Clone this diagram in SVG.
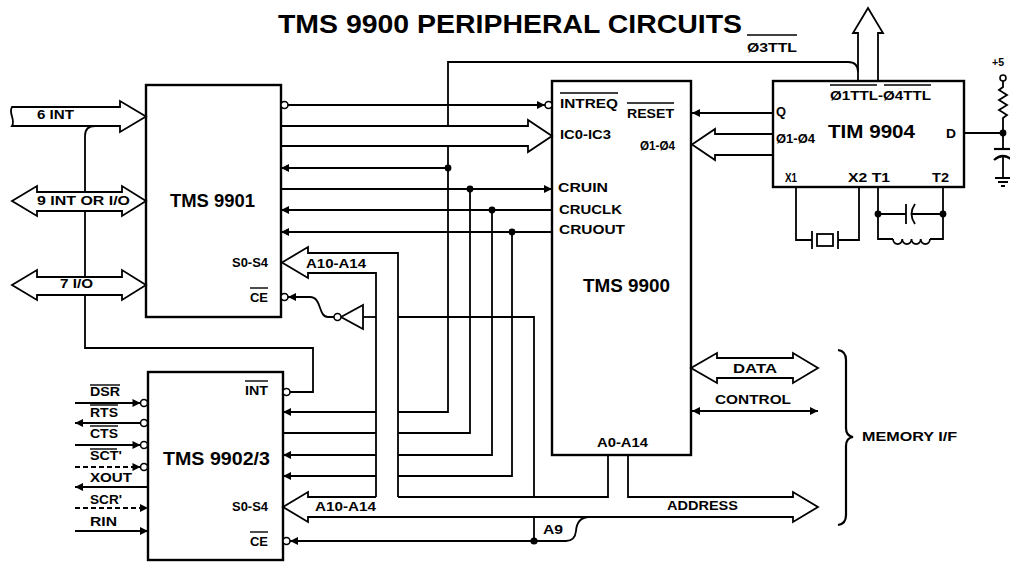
<svg xmlns="http://www.w3.org/2000/svg" width="1010" height="562" viewBox="0 0 1010 562">
<style>
.ln{fill:none;stroke:#000;stroke-width:1.8}
.bx{fill:none;stroke:#000;stroke-width:2.4}
.bus{fill:#fff;stroke:#000;stroke-width:1.8;stroke-linejoin:miter}
.t{font-family:"Liberation Sans",Arial,sans-serif;font-weight:bold;fill:#000;font-size:13px}
.b{font-size:18px}
.d{stroke-dasharray:5,3}
.ov{stroke:#000;stroke-width:1.4}
.bub{fill:#fff;stroke:#000;stroke-width:1.6}
.dot{fill:#000}
</style>
<defs>
<marker id="a" viewBox="0 0 10 10" refX="10" refY="5" markerWidth="9" markerHeight="8" markerUnits="userSpaceOnUse" orient="auto-start-reverse"><path d="M0,0 L10,5 L0,10 z" fill="#000"/></marker>
</defs>
<rect width="1010" height="562" fill="#fff"/>
<text class="t" x="278" y="33" style="font-size:25px" textLength="464" lengthAdjust="spacingAndGlyphs">TMS 9900 PERIPHERAL CIRCUITS</text>

<g id="connectors">
<path class="bus" d="M12,107 L120,107 L120,101 L146,116.5 L120,132 L120,126 L12,126 C16,120 8,113 12,107 Z"/>
<path class="bus" d="M12,201 L37,186 L37,192 L122,192 L122,186 L146,201 L122,216 L122,211 L37,211 L37,216 Z"/>
<path class="bus" d="M12,285 L37,270 L37,277 L122,277 L122,270 L146,285 L122,300 L122,295 L37,295 L37,300 Z"/>
<path class="ln" d="M85,192 L85,136 Q85,126 95,126"/>
<path class="ln" d="M85,211 L85,277"/>
<path class="ln" d="M85,295 L85,348 L313,348 L313,392 L290,392"/>
<path class="ln" d="M288,105 L545,105" marker-end="url(#a)"/>
<path class="ln" d="M281,126 L528,126 L528,120 L552,136 L528,152 L528,146 L281,146"/>
<path class="ln" d="M448,126 L448,62 L848,62 Q858,62 858,72"/>
<path class="ln" d="M448,168 L281,168" marker-end="url(#a)"/>
<path class="ln" d="M281,189 L552,189" marker-end="url(#a)"/>
<path class="ln" d="M552,210 L281,210" marker-end="url(#a)"/>
<path class="ln" d="M552,232 L281,232" marker-end="url(#a)"/>
<circle class="dot" cx="448" cy="168" r="3.4"/>
<circle class="dot" cx="470" cy="189" r="3.4"/>
<circle class="dot" cx="492" cy="210" r="3.4"/>
<circle class="dot" cx="512" cy="232" r="3.4"/>
<path class="ln" d="M448,146 L448,412 L398,412"/>
<path class="ln" d="M376,412 L283,412" marker-end="url(#a)"/>
<path class="ln" d="M470,189 L470,433 L398,433"/>
<path class="ln" d="M376,433 L283,433"/>
<path class="ln" d="M492,210 L492,455 L398,455"/>
<path class="ln" d="M376,455 L283,455" marker-end="url(#a)"/>
<path class="ln" d="M512,232 L512,476 L398,476"/>
<path class="ln" d="M376,476 L283,476" marker-end="url(#a)"/>
<path class="ln" d="M398,497 L398,253 L308,253 L308,247 L282,262.5 L308,278 L308,273 L376,273 L376,497"/>
<path class="ln" d="M376,497 L308,497 L308,492 L283,507 L308,522 L308,517 L793,517 L793,522 L818,507 L793,492 L793,497 L628,497 L628,455"/>
<path class="ln" d="M608,455 L608,497 L398,497"/>
<path class="ln" d="M534,497 L534,317 L398,317"/>
<path class="ln" d="M376,317 L363,317"/>
<path class="ln" d="M363,305 L363,329 L341,317 Z"/>
<circle class="bub" cx="337.5" cy="317" r="3.5"/>
<path class="ln" d="M334,317 L328,317 C318,317 322,297 310,297 L288,297" marker-end="url(#a)"/>
<path class="ln" d="M534,517 L534,541"/>
<path class="ln" d="M534,541 L290,541" marker-end="url(#a)"/>
<circle class="dot" cx="534" cy="541" r="3.6"/>
<path class="ln" d="M534,541 L566,541 Q575,541 576,531 Q577,518 588,517"/>
<path class="ln" d="M75,403 L140.5,403" marker-end="url(#a)"/>
<path class="ln" d="M140.5,423 L75,423" marker-end="url(#a)"/>
<path class="ln" d="M75,445 L140.5,445" marker-end="url(#a)"/>
<path class="ln d" d="M75,467 L140.5,467" marker-end="url(#a)"/>
<path class="ln" d="M148,487 L75,487" marker-end="url(#a)"/>
<path class="ln d" d="M75,508 L148,508" marker-end="url(#a)"/>
<path class="ln" d="M75,531 L148,531" marker-end="url(#a)"/>
<path class="ln" d="M773,113 L692,113" marker-end="url(#a)"/>
<path class="ln" d="M773,134 L715,134 L715,129 L692,144.5 L715,160 L715,155 L773,155"/>
<path class="ln" d="M858,81 L858,33 L853,33 L868,8 L883,33 L878,33 L878,81"/>
<path class="ln" d="M964,133 L1003,133"/>
<path class="ln" d="M1003,81 L1003,87 L999,90 L1007,95 L999,100 L1007,105 L999,110 L1007,115 L1003,118 L1003,148"/>
<circle class="bub" cx="1003" cy="78" r="3"/>
<circle class="dot" cx="1003" cy="133" r="3.4"/>
<path class="ln" d="M994,149 L1012,149" style="stroke-width:2.2"/>
<path class="ln" d="M994,160 Q1003,152 1012,160" style="stroke-width:2.2"/>
<path class="ln" d="M1003,156 L1003,178"/>
<path class="ln" d="M995,178 L1011,178 M998,182 L1008,182 M1001,186 L1005,186"/>
<path class="ln" d="M796,187 L796,240 L812,240 M812,231 L812,249 M838,231 L838,249 M838,240 L859,240 L859,187"/>
<rect class="ln" x="817" y="234" width="16" height="12"/>
<path class="ln" d="M878,187 L878,239 L893,239 M930,239 L943,239 L943,187"/>
<path class="ln" d="M893,239 a4.6,5 0 0 0 9.25,0 a4.6,5 0 0 0 9.25,0 a4.6,5 0 0 0 9.25,0 a4.6,5 0 0 0 9.25,0"/>
<path class="ln" d="M878,214 L906,214 M906,204 L906,224 M915,204 Q908,214 915,224 M912,214 L943,214"/>
<circle class="dot" cx="878" cy="214" r="3.4"/>
<circle class="dot" cx="943" cy="214" r="3.4"/>
<path class="ln" d="M691,368 L717,353 L717,358 L793,358 L793,353 L818,368 L793,383 L793,378 L717,378 L717,383 Z"/>
<path class="ln" d="M692,411 L818,411" marker-start="url(#a)" marker-end="url(#a)"/>
<path class="ln" d="M838,350 Q846,351 846,360 L846,428 Q846,436 853,437 Q846,438 846,446 L846,515 Q846,524 838,525" style="stroke-width:2.2"/>
</g>

<g id="tms9901">
<rect class="bx" x="146" y="85" width="135" height="232"/>
<circle class="bub" cx="284.5" cy="105" r="3.5"/>
<circle class="bub" cx="284.5" cy="297" r="3.5"/>
<text class="t b" x="170" y="207" textLength="85" lengthAdjust="spacingAndGlyphs">TMS 9901</text>
<text class="t" x="232" y="267" textLength="36" lengthAdjust="spacingAndGlyphs">S0-S4</text>
<text class="t" x="250" y="302" textLength="18" lengthAdjust="spacingAndGlyphs">CE</text>
<line class="ov" x1="250" y1="288" x2="268" y2="288"/>
</g>

<g id="tms9902">
<rect class="bx" x="148" y="372" width="135" height="188"/>
<circle class="bub" cx="286.5" cy="392" r="3.5"/>
<circle class="bub" cx="286.5" cy="541" r="3.5"/>
<circle class="bub" cx="144" cy="403" r="3.5"/>
<circle class="bub" cx="144" cy="423" r="3.5"/>
<circle class="bub" cx="144" cy="445" r="3.5"/>
<circle class="bub" cx="144" cy="467" r="3.5"/>
<text class="t b" x="163" y="465" textLength="107" lengthAdjust="spacingAndGlyphs">TMS 9902/3</text>
<text class="t" x="245" y="395" textLength="23" lengthAdjust="spacingAndGlyphs">INT</text>
<line class="ov" x1="245" y1="381" x2="268" y2="381"/>
<text class="t" x="232" y="511" textLength="36" lengthAdjust="spacingAndGlyphs">S0-S4</text>
<text class="t" x="250" y="546" textLength="18" lengthAdjust="spacingAndGlyphs">CE</text>
<line class="ov" x1="250" y1="532" x2="268" y2="532"/>
<text class="t" x="90" y="396" textLength="30" lengthAdjust="spacingAndGlyphs">DSR</text>
<line class="ov" x1="90" y1="385" x2="120" y2="385"/>
<text class="t" x="90" y="417" textLength="28" lengthAdjust="spacingAndGlyphs">RTS</text>
<line class="ov" x1="90" y1="405" x2="118" y2="405"/>
<text class="t" x="90" y="438" textLength="28" lengthAdjust="spacingAndGlyphs">CTS</text>
<line class="ov" x1="90" y1="426" x2="118" y2="426"/>
<text class="t" x="90" y="460" textLength="32" lengthAdjust="spacingAndGlyphs">SCT'</text>
<line class="ov" x1="90" y1="449" x2="117" y2="449"/>
<text class="t" x="90" y="482" textLength="42" lengthAdjust="spacingAndGlyphs">XOUT</text>
<text class="t" x="90" y="504" textLength="32" lengthAdjust="spacingAndGlyphs">SCR'</text>
<text class="t" x="90" y="526" textLength="27" lengthAdjust="spacingAndGlyphs">RIN</text>
</g>

<g id="tms9900">
<rect class="bx" x="552" y="81" width="139" height="374"/>
<circle class="bub" cx="548.5" cy="105" r="3.5"/>
<text class="t" x="560" y="108" textLength="58" lengthAdjust="spacingAndGlyphs">INTREQ</text>
<line class="ov" x1="560" y1="93" x2="618" y2="93"/>
<text class="t" x="627" y="118" textLength="47" lengthAdjust="spacingAndGlyphs">RESET</text>
<line class="ov" x1="627" y1="103" x2="674" y2="103"/>
<text class="t" x="560" y="139" textLength="51" lengthAdjust="spacingAndGlyphs">IC0-IC3</text>
<text class="t" x="640" y="150" textLength="35" lengthAdjust="spacingAndGlyphs">Ø1-Ø4</text>
<text class="t" x="558" y="192" textLength="50" lengthAdjust="spacingAndGlyphs">CRUIN</text>
<text class="t" x="559" y="214" textLength="63" lengthAdjust="spacingAndGlyphs">CRUCLK</text>
<text class="t" x="559" y="234" textLength="66" lengthAdjust="spacingAndGlyphs">CRUOUT</text>
<text class="t b" x="583" y="292" textLength="87" lengthAdjust="spacingAndGlyphs">TMS 9900</text>
<text class="t" x="597" y="447" textLength="51" lengthAdjust="spacingAndGlyphs">A0-A14</text>
</g>

<g id="tim9904">
<rect class="bx" x="773" y="81" width="191" height="106"/>
<text class="t" x="830" y="100" textLength="101" lengthAdjust="spacingAndGlyphs">Ø1TTL-Ø4TTL</text>
<line class="ov" x1="830" y1="85" x2="877" y2="85"/>
<line class="ov" x1="884" y1="85" x2="931" y2="85"/>
<text class="t" x="776" y="116" textLength="10" lengthAdjust="spacingAndGlyphs">Q</text>
<text class="t" x="776" y="143" textLength="39" lengthAdjust="spacingAndGlyphs">Ø1-Ø4</text>
<text class="t b" x="828" y="138" textLength="87" lengthAdjust="spacingAndGlyphs">TIM 9904</text>
<text class="t" x="946" y="138" textLength="10" lengthAdjust="spacingAndGlyphs">D</text>
<text class="t" x="785" y="182" textLength="12" lengthAdjust="spacingAndGlyphs">X1</text>
<text class="t" x="848" y="182" textLength="42" lengthAdjust="spacingAndGlyphs">X2 T1</text>
<text class="t" x="932" y="182" textLength="17" lengthAdjust="spacingAndGlyphs">T2</text>
</g>

<g id="labels">
<text class="t" x="37" y="119" textLength="37" lengthAdjust="spacingAndGlyphs">6 INT</text>
<text class="t" x="37" y="205" textLength="93" lengthAdjust="spacingAndGlyphs">9 INT OR I/O</text>
<text class="t" x="60" y="288" textLength="33" lengthAdjust="spacingAndGlyphs">7 I/O</text>
<text class="t" x="306" y="268" textLength="60" lengthAdjust="spacingAndGlyphs">A10-A14</text>
<text class="t" x="315" y="511" textLength="61" lengthAdjust="spacingAndGlyphs">A10-A14</text>
<text class="t" x="543" y="534" textLength="20" lengthAdjust="spacingAndGlyphs">A9</text>
<text class="t" x="747" y="52" textLength="50" lengthAdjust="spacingAndGlyphs">Ø3TTL</text>
<line class="ov" x1="747" y1="35" x2="797" y2="35"/>
<text class="t" x="992" y="66" style="font-size:11px" textLength="12" lengthAdjust="spacingAndGlyphs">+5</text>
<text class="t" x="733" y="373" textLength="44" lengthAdjust="spacingAndGlyphs">DATA</text>
<text class="t" x="715" y="404" textLength="76" lengthAdjust="spacingAndGlyphs">CONTROL</text>
<text class="t" x="667" y="510" textLength="71" lengthAdjust="spacingAndGlyphs">ADDRESS</text>
<text class="t" x="862" y="441" textLength="95" lengthAdjust="spacingAndGlyphs">MEMORY I/F</text>
</g>
</svg>
